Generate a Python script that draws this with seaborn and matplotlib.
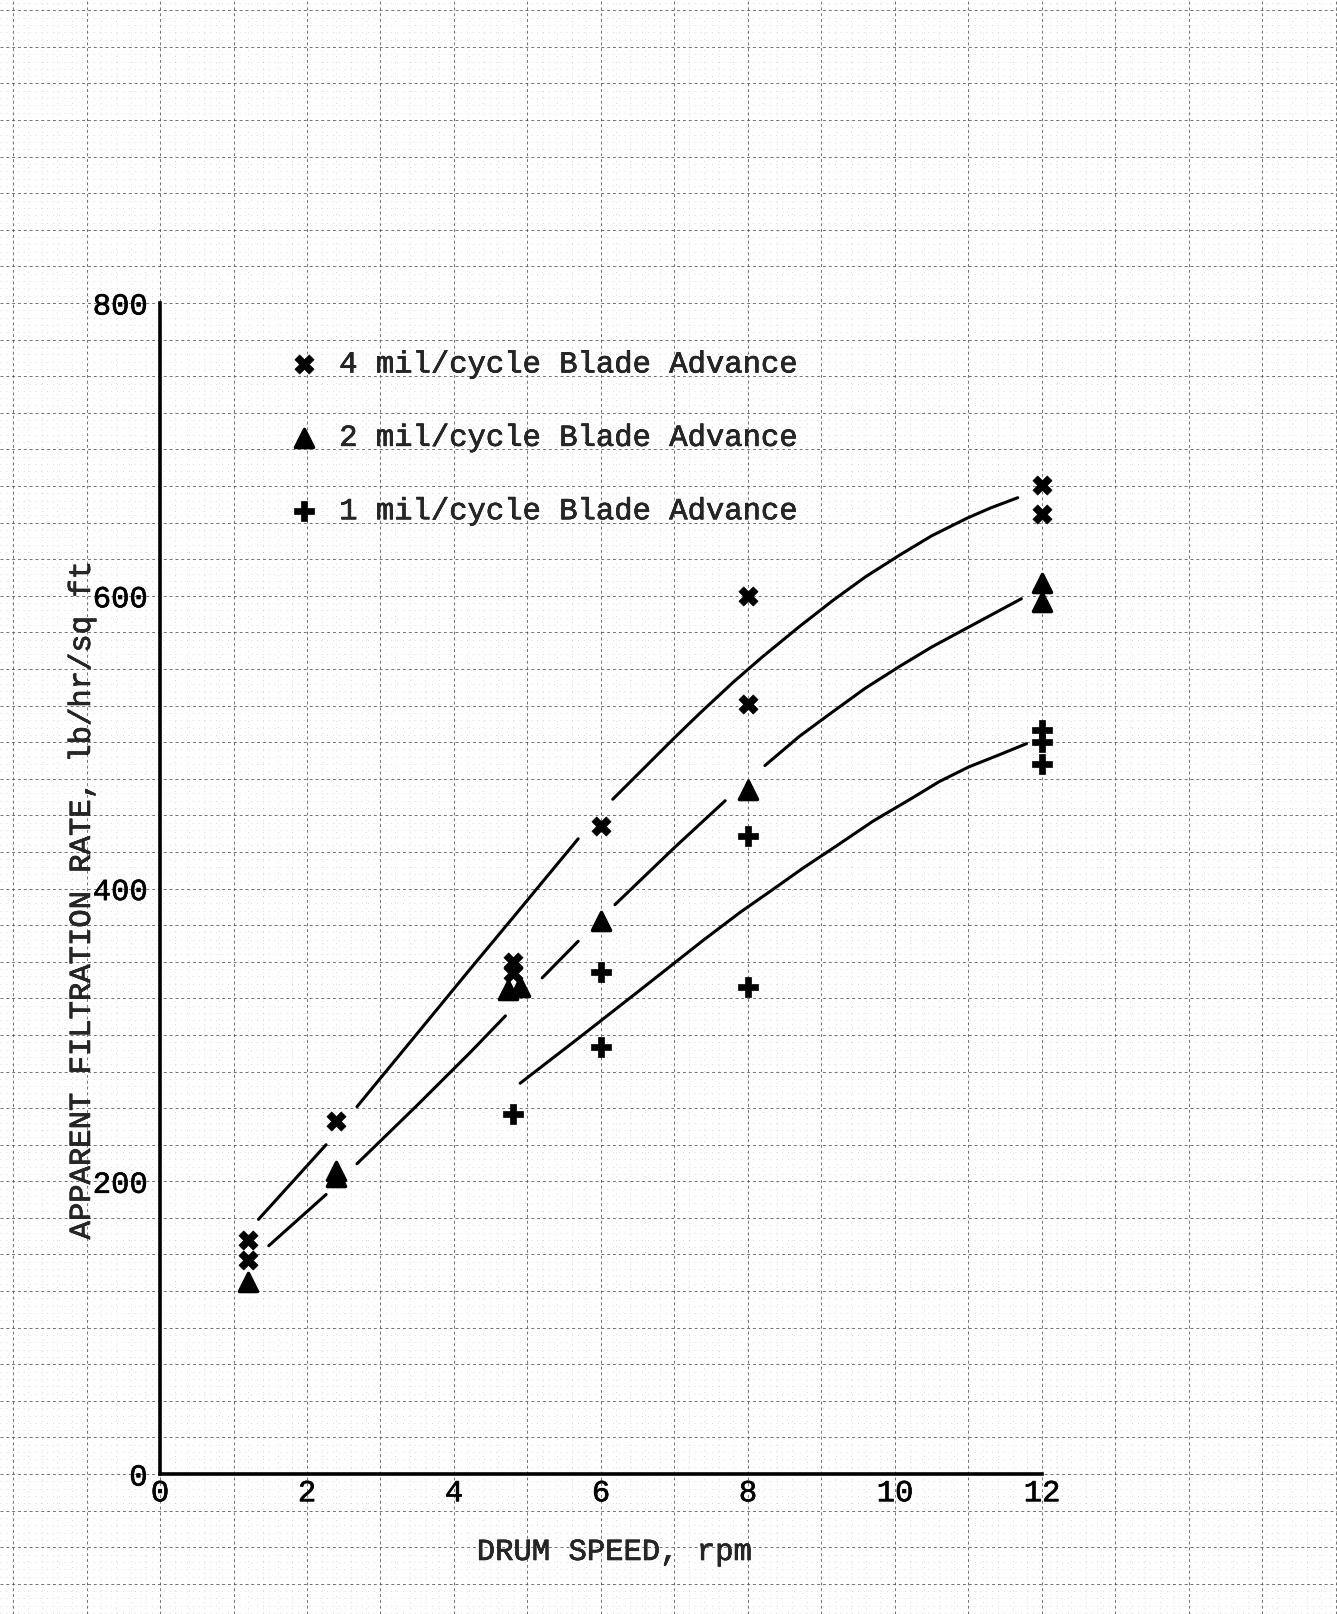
import numpy as np
import pandas as pd
import seaborn as sns
import matplotlib.pyplot as plt
import matplotlib.patheffects as pe
from matplotlib.ticker import MultipleLocator

# measured points: drum speed (rpm) vs apparent filtration rate (lb/hr/sq ft)
x_4mil = [1.2, 1.2, 2.4, 4.8, 4.8, 6.0, 8.0, 8.0, 12.0, 12.0]
y_4mil = [160, 146, 241, 350, 342, 443, 600, 526, 676, 656]
x_2mil = [1.2, 2.4, 2.4, 4.73, 4.9, 6.0, 8.0, 12.0, 12.0]
y_2mil = [131, 207, 203, 331, 333, 378, 467, 609, 596]
x_1mil = [4.8, 6.0, 6.0, 8.0, 8.0, 12.0, 12.0, 12.0]
y_1mil = [246, 343, 292, 436, 333, 508, 500, 485]

# hand drawn curves, broken where they pass the markers
curve_x = [1.34, 2.26,
           2.68, 3.5, 4.22, 4.8, 5.69,
           6.16, 7.0, 7.35, 7.8, 8.19, 8.7, 9.16, 9.6, 10.07, 10.5, 10.98, 11.3, 11.67,
           1.48, 2.26,
           2.68, 3.5, 4.22, 4.7,
           5.2, 5.69,
           6.19, 7.0, 7.69,
           8.23, 8.7, 9.16, 9.6, 10.07, 10.5, 10.98, 11.72,
           4.9, 5.7, 6.49, 7.4, 7.9, 8.3, 8.75, 9.2, 9.7, 10.24, 10.6, 11.0, 11.4, 11.79]
curve_y = [174, 225,
           251, 301, 345, 380, 434,
           461, 503, 520, 541, 558, 579, 597, 613, 628, 641, 653, 660, 667,
           156, 191,
           212, 252, 288, 313,
           339, 364,
           389, 428, 460,
           484, 504, 521, 537, 552, 565, 578, 598,
           267, 298, 329, 365, 384, 398, 414, 429, 446, 462, 473, 483, 491, 499]
curve_seg = (["4a"] * 2 + ["4b"] * 5 + ["4c"] * 13 +
             ["2a"] * 2 + ["2b"] * 4 + ["2c"] * 2 + ["2d"] * 3 + ["2e"] * 8 +
             ["1a"] * 14)

xticks = [0, 2, 4, 6, 8, 10, 12]
yticks = [0, 200, 400, 600, 800]

curves = pd.DataFrame({"x": curve_x, "y": curve_y, "seg": curve_seg})

sns.set_style("white")
plt.rcParams['font.family'] = ['Liberation Mono', 'DejaVu Sans Mono']
ink = [pe.withStroke(linewidth=0.45, foreground="black")]

fig = plt.figure(figsize=(13.37, 16.15), dpi=100)
xlim = (-2.177, 16.014)
ylim = (-95.6, 1007.7)

# graph paper
bg = fig.add_axes([0, 0, 1, 1])
bg.set_xlim(xlim)
bg.set_ylim(ylim)
bg.xaxis.set_major_locator(MultipleLocator(1))
bg.xaxis.set_minor_locator(MultipleLocator(0.2))
bg.yaxis.set_major_locator(MultipleLocator(25))
bg.yaxis.set_minor_locator(MultipleLocator(5))
bg.grid(which='major', color='0.3', lw=0.7, ls=(0, (3, 3)), alpha=0.8)
bg.grid(which='minor', color='0.5', lw=0.6, ls=(0, (1, 6)), alpha=0.4)
bg.tick_params(which='both', length=0, labelbottom=False, labelleft=False)
for s in bg.spines.values():
    s.set_visible(False)

ax = fig.add_axes([0, 0, 1, 1])
ax.patch.set_alpha(0)
ax.set_xlim(xlim)
ax.set_ylim(ylim)

sns.lineplot(data=curves, x="x", y="y", units="seg", estimator=None, sort=False,
             color="black", lw=2.2, legend=False, ax=ax)

sns.scatterplot(x=x_4mil, y=y_4mil, marker="X", s=190, color="black",
                edgecolor="black", linewidth=0.5, label="4 mil/cycle Blade Advance", ax=ax, zorder=3)
sns.scatterplot(x=x_2mil, y=y_2mil, marker="^", s=170, color="black",
                edgecolor="black", linewidth=2.5, label="2 mil/cycle Blade Advance", ax=ax, zorder=3)
ax.collections[-1].set_joinstyle("round")
sns.scatterplot(x=x_1mil, y=y_1mil, marker="P", s=190, color="black",
                edgecolor="black", linewidth=0.5, label="1 mil/cycle Blade Advance", ax=ax, zorder=3)

for side in ['top', 'right']:
    ax.spines[side].set_visible(False)
ax.spines['left'].set_position(('data', 0))
ax.spines['bottom'].set_position(('data', 0))
ax.spines['left'].set_bounds(0, 800)
ax.spines['bottom'].set_bounds(0, 12)
ax.spines['left'].set_linewidth(2.6)
ax.spines['bottom'].set_linewidth(2.6)
ax.spines['left'].set_color('black')
ax.spines['bottom'].set_color('black')

ax.set_xticks(xticks)
ax.set_yticks(yticks)
ax.tick_params(direction='in', length=16, width=2.6, labelsize=22, colors='black')
ax.tick_params(axis='x', pad=3)
ax.tick_params(axis='y', pad=9)
for t in ax.get_xticklabels() + ax.get_yticklabels():
    t.set_path_effects(ink)

ax.set_xlabel("DRUM SPEED, rpm", fontsize=22, path_effects=ink)
ax.xaxis.set_label_coords(0.459, 0.0477)
ax.set_ylabel("APPARENT FILTRATION RATE, lb/hr/sq ft", fontsize=22, path_effects=ink)
ax.yaxis.set_label_coords(0.0725, 0.441)

leg = ax.legend(loc="upper left", bbox_to_anchor=(0.216, 0.783), bbox_transform=fig.transFigure,
                frameon=False, fontsize=22, handlelength=1.0, handletextpad=0.65,
                labelspacing=1.42, borderpad=0, borderaxespad=0)
for t in leg.get_texts():
    t.set_path_effects(ink)

fig.savefig("out.png", dpi=100)
